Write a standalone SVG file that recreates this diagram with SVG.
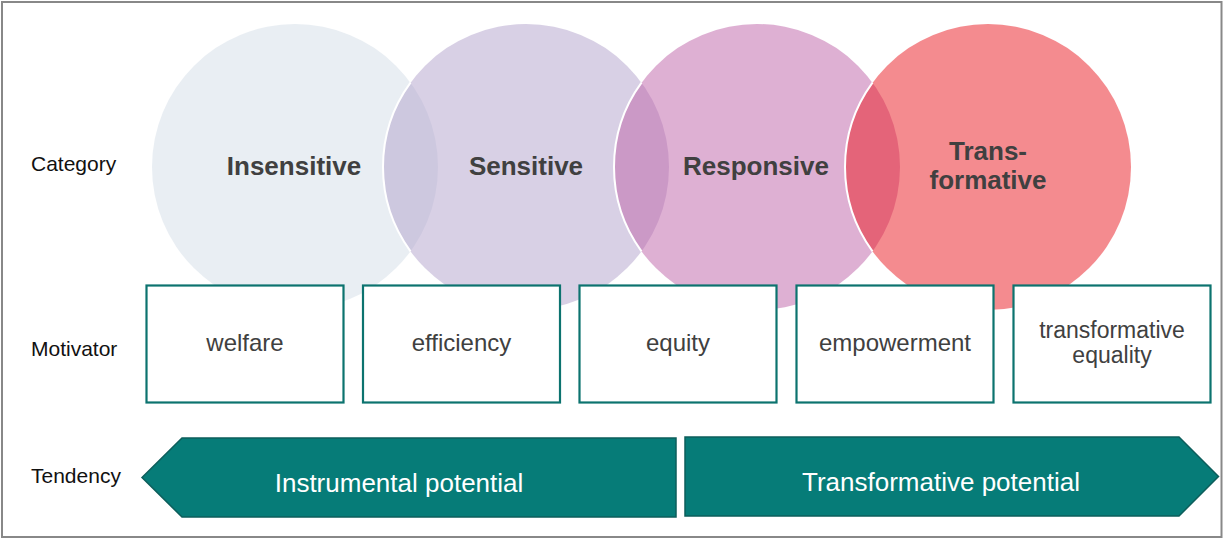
<svg xmlns="http://www.w3.org/2000/svg" width="1223" height="538" viewBox="0 0 1223 538">
  <style>
    .row { font-family: "Liberation Sans", Arial, sans-serif; font-size: 21px; fill: #111111; }
    .cat { font-family: "Liberation Sans", Arial, sans-serif; font-size: 26px; font-weight: bold; fill: #404040; text-anchor: middle; }
    .circle { fill-opacity: 0.5; }
    .edge { fill: none; stroke: #ffffff; stroke-width: 2; }
    .box rect { fill: #ffffff; stroke: #0C736F; stroke-width: 2.2; }
    .box text { font-family: "Liberation Sans", Arial, sans-serif; font-size: 24px; fill: #404040; text-anchor: middle; }
    .box text.two { font-size: 23px; }
    .arrow polygon { fill: #067C78; stroke: #0D5E5B; stroke-width: 1.5; stroke-linejoin: miter; }
    .arrow text { font-family: "Liberation Sans", Arial, sans-serif; font-size: 26px; fill: #ffffff; text-anchor: middle; }
  </style>

  <!-- frame -->
  <rect x="2" y="2" width="1219.5" height="535" fill="#ffffff" stroke="#888888" stroke-width="2"/>

  <!-- row labels -->
  <g id="row-labels">
    <text class="row" x="31" y="171">Category</text>
    <text class="row" x="31" y="356">Motivator</text>
    <text class="row" x="31" y="483">Tendency</text>
  </g>

  <!-- category circles (semi-transparent, white edge where each overlaps the previous) -->
  <g id="circle-insensitive">
    <circle class="circle" cx="295" cy="167" r="143" fill="#D3DDE7"/>
  </g>
  <g id="circle-sensitive">
    <circle class="circle" cx="526" cy="167" r="143" fill="#B1A1CB"/>
    <path class="edge" d="M410.5,82.7 A143,143 0 0 0 410.5,251.3"/>
  </g>
  <g id="circle-responsive">
    <circle class="circle" cx="757" cy="167" r="143" fill="#BD61A7"/>
    <path class="edge" d="M641.5,82.7 A143,143 0 0 0 641.5,251.3"/>
  </g>
  <g id="circle-transformative">
    <circle class="circle" cx="988" cy="167" r="143" fill="#E9171F"/>
    <path class="edge" d="M872.5,82.7 A143,143 0 0 0 872.5,251.3"/>
  </g>

  <!-- category labels -->
  <g id="category-labels">
    <text class="cat" x="294" y="175">Insensitive</text>
    <text class="cat" x="526" y="175">Sensitive</text>
    <text class="cat" x="756" y="175">Responsive</text>
    <text class="cat" x="988" y="160">Trans-</text>
    <text class="cat" x="988" y="189">formative</text>
  </g>

  <!-- motivator boxes -->
  <g id="box-welfare" class="box">
    <rect x="146.5" y="285.5" width="197" height="117"/>
    <text x="245" y="351">welfare</text>
  </g>
  <g id="box-efficiency" class="box">
    <rect x="363" y="285.5" width="197" height="117"/>
    <text x="461.5" y="351">efficiency</text>
  </g>
  <g id="box-equity" class="box">
    <rect x="579.5" y="285.5" width="197" height="117"/>
    <text x="678" y="351">equity</text>
  </g>
  <g id="box-empowerment" class="box">
    <rect x="796.5" y="285.5" width="197" height="117"/>
    <text x="895" y="351">empowerment</text>
  </g>
  <g id="box-transformative-equality" class="box">
    <rect x="1013.5" y="285.5" width="197" height="117"/>
    <text class="two" x="1112" y="338">transformative</text>
    <text class="two" x="1112" y="363">equality</text>
  </g>

  <!-- tendency arrows -->
  <g id="connectors">
    <g id="arrow-instrumental" class="arrow">
      <polygon points="142,477.5 182,438 676,438 676,517 182,517"/>
      <text x="399" y="492">Instrumental potential</text>
    </g>
    <g id="arrow-transformative" class="arrow">
      <polygon points="685,437 1179,437 1218.5,476.5 1179,516 685,516"/>
      <text x="941" y="491">Transformative potential</text>
    </g>
  </g>
</svg>
